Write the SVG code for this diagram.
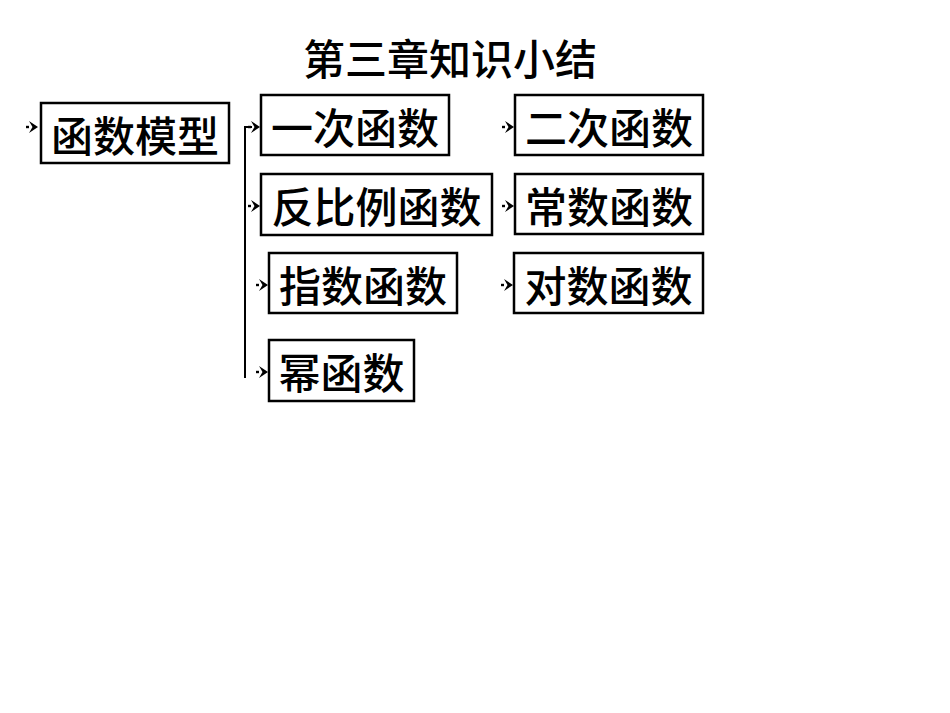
<svg xmlns="http://www.w3.org/2000/svg" width="950" height="713" viewBox="0 0 950 713">
<style>
.box{fill:#fff;stroke:#000;stroke-width:2.5}
.t{font-family:"Noto Sans CJK SC","Noto Sans",sans-serif;font-size:42px;font-weight:500;fill:#000;text-anchor:middle;dominant-baseline:central}
.title{font-family:"Noto Sans CJK SC","Noto Sans",sans-serif;font-size:42px;font-weight:500;fill:#000;text-anchor:middle;dominant-baseline:central}
.ln{fill:none;stroke:#000;stroke-width:2}
.ah{fill:#000}
</style>
<defs>
<g id="arr">
<rect x="-12" y="-1.2" width="3" height="2.4" class="ah"/>
<path d="M-9,-6 L0,0 L-9,6 L-5.5,0 Z" class="ah"/>
</g>
</defs>
<rect width="950" height="713" fill="#fff"/>
<text class="title" x="450" y="56">第三章知识小结</text>
<g id="connectors">
<polyline class="ln" points="252,127 245,127 245,378"/>
<use href="#arr" x="38" y="127"/>
<use href="#arr" x="260" y="127"/>
<use href="#arr" x="260" y="206"/>
<use href="#arr" x="268" y="285"/>
<use href="#arr" x="268" y="372"/>
<use href="#arr" x="514" y="127"/>
<use href="#arr" x="514" y="206"/>
<use href="#arr" x="513" y="285"/>
</g>
<g id="n-model"><rect class="box" x="41" y="103" width="188" height="60"/><text class="t" x="135" y="133">函数模型</text></g>
<g id="n-linear"><rect class="box" x="261" y="95" width="188" height="60"/><text class="t" x="355" y="125">一次函数</text></g>
<g id="n-inverse"><rect class="box" x="261" y="174" width="231" height="61"/><text class="t" x="376.5" y="204.5">反比例函数</text></g>
<g id="n-exp"><rect class="box" x="269" y="253" width="188" height="60"/><text class="t" x="363" y="283">指数函数</text></g>
<g id="n-power"><rect class="box" x="269" y="340" width="145" height="61"/><text class="t" x="341.5" y="370.5">幂函数</text></g>
<g id="n-quad"><rect class="box" x="515" y="95" width="188" height="60"/><text class="t" x="609" y="125">二次函数</text></g>
<g id="n-const"><rect class="box" x="515" y="174" width="188" height="60"/><text class="t" x="609" y="204">常数函数</text></g>
<g id="n-log"><rect class="box" x="514" y="253" width="189" height="60"/><text class="t" x="608.5" y="283">对数函数</text></g>
</svg>
